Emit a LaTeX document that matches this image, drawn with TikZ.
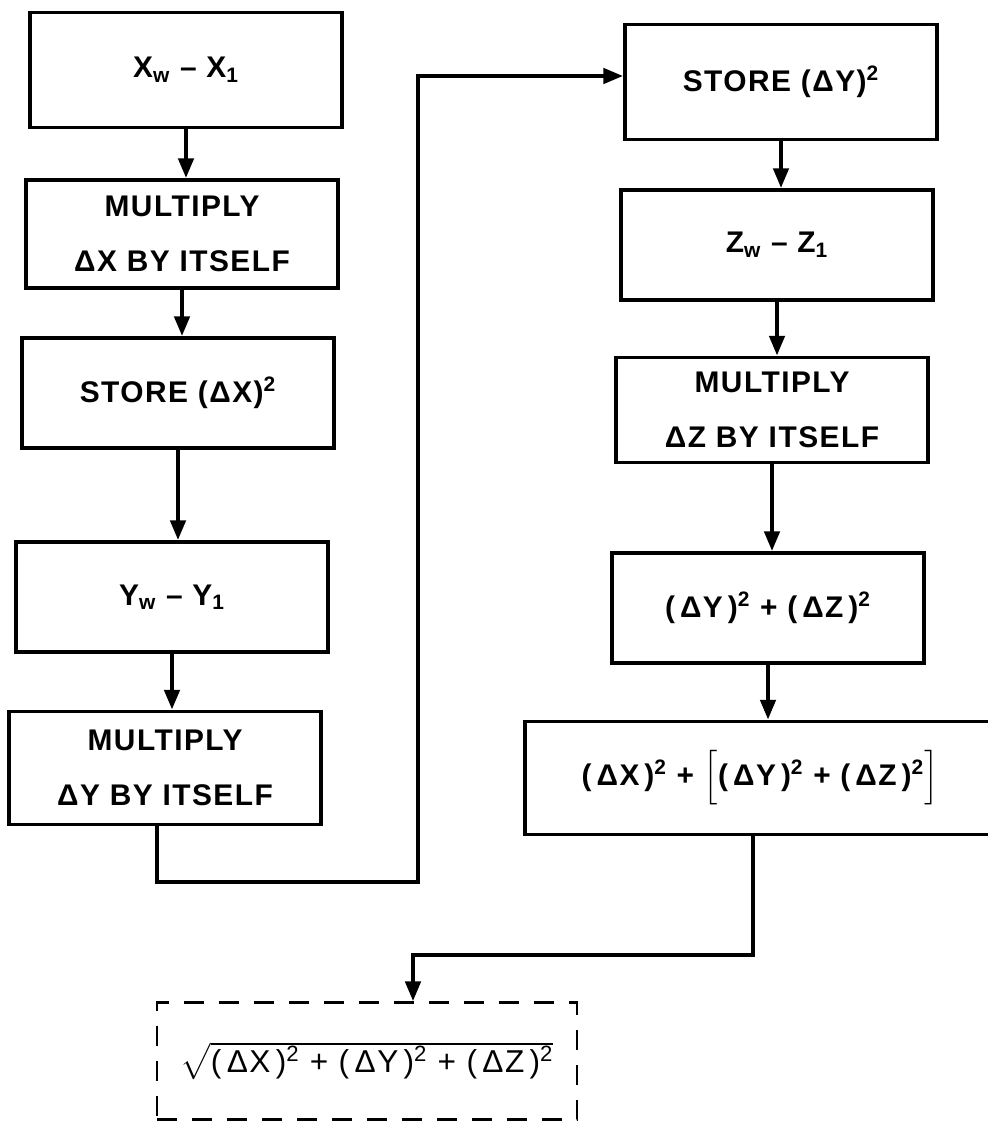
\documentclass[tikz,border=0pt]{standalone}
\usepackage{fontspec}
\usepackage{amsmath}
\setmainfont{Liberation Sans}[LetterSpace=5]
\usetikzlibrary{arrows.meta, calc, positioning}
\newcommand{\boxfont}{\fontsize{17}{31}\selectfont\bfseries}
\newcommand{\sqd}[1]{(\,Δ#1\,)\textsuperscript{2}}

\begin{document}
\begin{tikzpicture}[x=0.02cm, y=-0.02cm,
    box/.style={draw, line width=2pt, minimum width=6.24cm, minimum height=2.2cm, align=center, font=\boxfont},
    flow/.style={-{Triangle[length=4mm, width=3mm]}, line width=2.6pt}]
    \useasboundingbox (0,0) rectangle (987,1131);

    % Left column
    \node[box, minimum height=2.3cm] (xdiff) at (186,70) {X\textsubscript{w} -- X\textsubscript{1}};
    \node[box, minimum height=2.16cm] (xmul) at (182,234) {MULTIPLY\\ΔX BY ITSELF};
    \node[box] (xstore) at (178,393) {STORE (ΔX)\textsuperscript{2}};
    \node[box] (ydiff) at (172,597) {Y\textsubscript{w} -- Y\textsubscript{1}};
    \node[box, minimum height=2.26cm] (ymul) at (165,768) {MULTIPLY\\ΔY BY ITSELF};

    % Right column
    \node[box, minimum height=2.3cm] (ystore) at (781,82) {STORE (ΔY)\textsuperscript{2}};
    \node[box] (zdiff) at (777,245) {Z\textsubscript{w} -- Z\textsubscript{1}};
    \node[box, minimum height=2.1cm] (zmul) at (772,410) {MULTIPLY\\ΔZ BY ITSELF};
    \node[box] (yzsum) at (768,608) {\sqd{Y} + \sqd{Z}};
    \node[box, minimum width=9.4cm, minimum height=2.26cm] (xyzsum) at (760,778)
        {\sqd{X} + $\Bigl[$\sqd{Y} + \sqd{Z}$\Bigr]$};

    % Result
    \node[box, dashed, dash pattern=on 4mm off 3mm, line width=1.3pt, minimum width=8.4cm, minimum height=2.34cm,
        font=\fontsize{18}{31}\selectfont] (root) at (367,1061)
        {$\sqrt{\text{\sqd{X} + \sqd{Y} + \sqd{Z}}}$};

    % Arrows
    \draw[flow] (xdiff.south) -- (xdiff.south |- xmul.north);
    \draw[flow] (xmul.south) -- (xmul.south |- xstore.north);
    \draw[flow] (xstore.south) -- (xstore.south |- ydiff.north);
    \draw[flow] (ydiff.south) -- (ydiff.south |- ymul.north);
    \draw[flow] (ystore.south) -- (ystore.south |- zdiff.north);
    \draw[flow] (zdiff.south) -- (zdiff.south |- zmul.north);
    \draw[flow] (zmul.south) -- (zmul.south |- yzsum.north);
    \draw[flow] (yzsum.south) -- (yzsum.south |- xyzsum.north);

    % Cross-over connectors
    \coordinate (up) at (418,882);
    \draw[flow] ($(ymul.south)+(-8,0)$) |- (up) |- ($(ystore.west)+(0,-6)$);
    \coordinate (down) at (413,955);
    \draw[flow] ($(xyzsum.south)+(-7,0)$) |- (down) -- (down |- root.north);
\end{tikzpicture}
\end{document}
